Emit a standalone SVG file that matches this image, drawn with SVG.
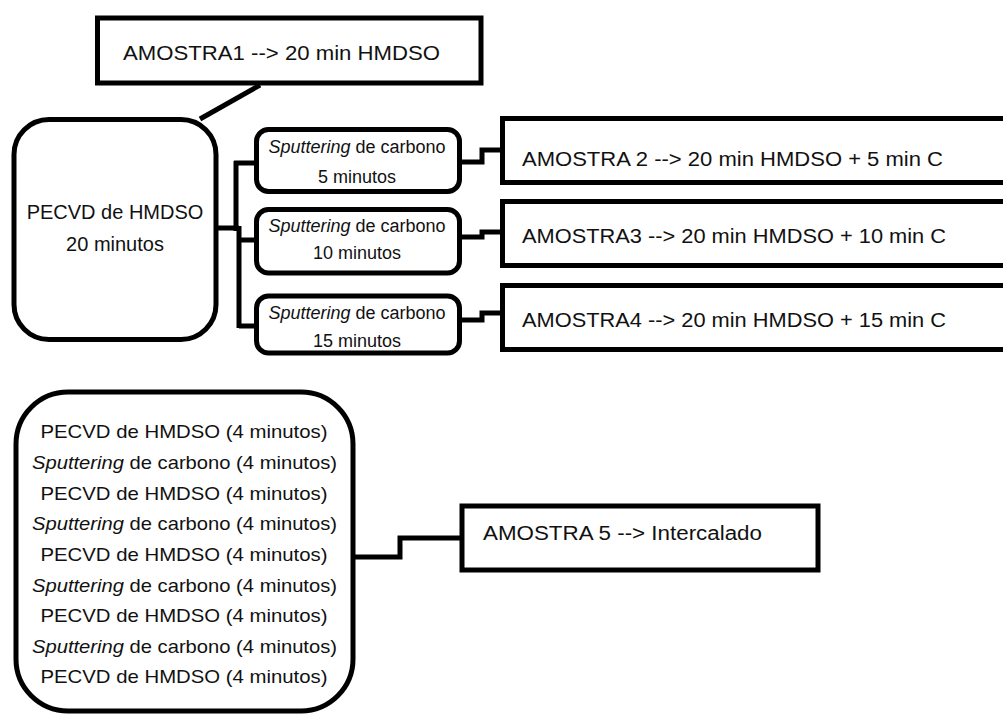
<svg xmlns="http://www.w3.org/2000/svg" width="1003" height="715" viewBox="0 0 1003 715">
<style>
.box{fill:#fff;stroke:#000;stroke-width:5}
.con{fill:none;stroke:#000;stroke-width:5;stroke-linejoin:miter;stroke-linecap:butt}
text{font-family:"Liberation Sans",Arial,sans-serif;fill:#111}
.t20{font-size:20px}
.t18{font-size:18px}
.t19{font-size:19px}
.c{text-anchor:middle}
.i{font-style:italic}
</style>
<rect width="1003" height="715" fill="#fff"/>
<g id="connectors">
<path class="con" d="M200,119 L260,85"/>
<path class="con" d="M216,228 H239"/>
<path class="con" d="M236,161 V231"/>
<path class="con" d="M239,226 V328"/>
<path class="con" d="M234,163 H256"/>
<path class="con" d="M239,240 H256"/>
<path class="con" d="M239,326 H256"/>
<path class="con" d="M459,162 H482 V150 H502"/>
<path class="con" d="M459,237 H482 V232 H502"/>
<path class="con" d="M459,320 H482 V313 H502"/>
<path class="con" d="M353,557 H400 V538 H462"/>
</g>
<g id="amostra1">
<rect class="box" x="97.5" y="18" width="383.5" height="65"/>
<text class="t20" x="123" y="60" textLength="317" lengthAdjust="spacingAndGlyphs">AMOSTRA1 --&gt; 20 min HMDSO</text>
</g>
<g id="pecvd">
<rect class="box" x="14" y="119.5" width="202" height="220" rx="35" ry="35"/>
<text class="t20 c" x="115" y="219">PECVD de HMDSO</text>
<text class="t20 c" x="115" y="251">20 minutos</text>
</g>
<g id="sputter5">
<rect class="box" x="256.5" y="129.5" width="203" height="62" rx="12" ry="12"/>
<text class="t18 c" x="357" y="153"><tspan class="i">Sputtering</tspan> de carbono</text>
<text class="t18 c" x="357" y="183">5 minutos</text>
</g>
<g id="sputter10">
<rect class="box" x="256.5" y="209.5" width="203" height="63.5" rx="12" ry="12"/>
<text class="t18 c" x="357" y="232"><tspan class="i">Sputtering</tspan> de carbono</text>
<text class="t18 c" x="357" y="259">10 minutos</text>
</g>
<g id="sputter15">
<rect class="box" x="256.5" y="296" width="203" height="57" rx="12" ry="12"/>
<text class="t18 c" x="357" y="319"><tspan class="i">Sputtering</tspan> de carbono</text>
<text class="t18 c" x="357" y="347">15 minutos</text>
</g>
<g id="amostra2">
<rect class="box" x="502.5" y="118.5" width="520" height="64"/>
<text class="t20" x="522" y="166" textLength="421" lengthAdjust="spacingAndGlyphs">AMOSTRA 2 --&gt; 20 min HMDSO + 5 min C</text>
</g>
<g id="amostra3">
<rect class="box" x="502.5" y="201.5" width="520" height="64"/>
<text class="t20" x="522" y="243" textLength="424" lengthAdjust="spacingAndGlyphs">AMOSTRA3 --&gt; 20 min HMDSO + 10 min C</text>
</g>
<g id="amostra4">
<rect class="box" x="502.5" y="285.5" width="520" height="64"/>
<text class="t20" x="522" y="327" textLength="424" lengthAdjust="spacingAndGlyphs">AMOSTRA4 --&gt; 20 min HMDSO + 15 min C</text>
</g>
<g id="intercalado">
<rect class="box" x="16" y="392" width="337" height="319" rx="52" ry="52"/>
<text class="t19 c" x="184" y="438" textLength="287" lengthAdjust="spacingAndGlyphs">PECVD de HMDSO (4 minutos)</text>
<text class="t19 c" x="184.5" y="469" textLength="305" lengthAdjust="spacingAndGlyphs"><tspan class="i">Sputtering</tspan> de carbono (4 minutos)</text>
<text class="t19 c" x="184" y="500" textLength="287" lengthAdjust="spacingAndGlyphs">PECVD de HMDSO (4 minutos)</text>
<text class="t19 c" x="184.5" y="530" textLength="305" lengthAdjust="spacingAndGlyphs"><tspan class="i">Sputtering</tspan> de carbono (4 minutos)</text>
<text class="t19 c" x="184" y="561" textLength="287" lengthAdjust="spacingAndGlyphs">PECVD de HMDSO (4 minutos)</text>
<text class="t19 c" x="184.5" y="592" textLength="305" lengthAdjust="spacingAndGlyphs"><tspan class="i">Sputtering</tspan> de carbono (4 minutos)</text>
<text class="t19 c" x="184" y="622" textLength="287" lengthAdjust="spacingAndGlyphs">PECVD de HMDSO (4 minutos)</text>
<text class="t19 c" x="184.5" y="653" textLength="305" lengthAdjust="spacingAndGlyphs"><tspan class="i">Sputtering</tspan> de carbono (4 minutos)</text>
<text class="t19 c" x="184" y="683" textLength="287" lengthAdjust="spacingAndGlyphs">PECVD de HMDSO (4 minutos)</text>
</g>
<g id="amostra5">
<rect class="box" x="462" y="506" width="356" height="64"/>
<text class="t20" x="483" y="540" textLength="279" lengthAdjust="spacingAndGlyphs">AMOSTRA 5 --&gt; Intercalado</text>
</g>
</svg>
